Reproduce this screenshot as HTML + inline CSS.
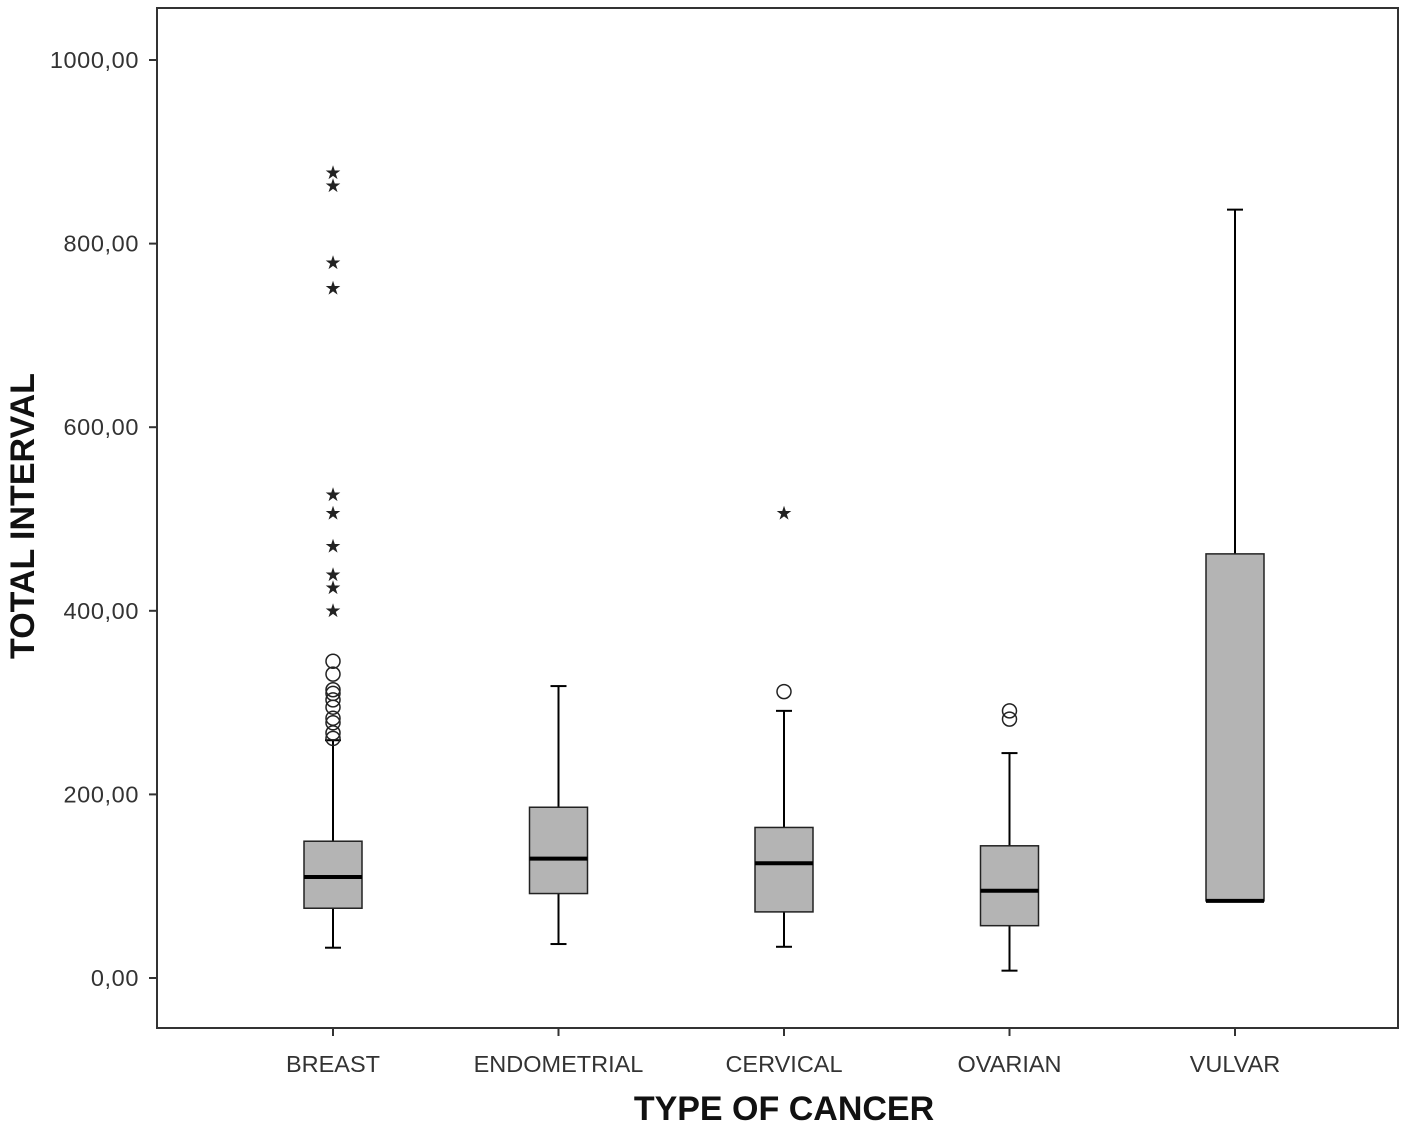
<!DOCTYPE html>
<html><head><meta charset="utf-8"><style>
html,body{margin:0;padding:0;background:#fff}
svg text{font-family:"Liberation Sans",Arial,sans-serif}
</style></head><body>
<svg id="chart" width="1418" height="1127" xmlns="http://www.w3.org/2000/svg"></svg>
<script>
const categories=["BREAST","ENDOMETRIAL","CERVICAL","OVARIAN","VULVAR"];
const whiskerLow=[33,37,34,8,84];
const q1=[76,92,72,57,84];
const median=[110,130,125,95,84];
const q3=[149,186,164,144,462];
const whiskerHigh=[259,318,291,245,837];
const circleOutliers=[[345,331,314,310,303,295,283,278,267,261],[],[312],[291,282],[]];
const starOutliers=[[878,864,780,752,527,507,471,440,426,401],[],[507],[],[]];
const yTicks=[0,200,400,600,800,1000];
const yTickLabels=["0,00","200,00","400,00","600,00","800,00","1000,00"];

const NS="http://www.w3.org/2000/svg";
const svg=document.getElementById('chart');
const L=157,R=1398,T=8,B=1028;
const y=v=>978-v*0.918;
const x=i=>333+i*225.5;
function mk(tag,attrs,parent){const e=document.createElementNS(NS,tag);for(const k in attrs)e.setAttribute(k,attrs[k]);(parent||svg).appendChild(e);return e;}

const frame=mk('rect',{x:L,y:T,width:R-L,height:B-T,fill:'none',stroke:'#333','stroke-width':2});



yTicks.forEach((v,i)=>{
  const t=mk('line',{x1:149,x2:L,y1:y(v),y2:y(v),stroke:'#333','stroke-width':2});
  
  
  const tx=mk('text',{x:139,y:y(v)+8,'text-anchor':'end','font-size':23.5,fill:'#333','letter-spacing':'0.6'});
  tx.textContent=yTickLabels[i];
  
  
});

categories.forEach((c,i)=>{
  const cx=x(i),hw=29,cap=8;
  const g=mk('g',{});
  
  
  mk('line',{x1:cx,x2:cx,y1:B,y2:B+8,stroke:'#333','stroke-width':2},g);
  mk('line',{x1:cx,x2:cx,y1:y(q3[i]),y2:y(whiskerHigh[i]),stroke:'#000','stroke-width':2},g);
  mk('line',{x1:cx-cap,x2:cx+cap,y1:y(whiskerHigh[i]),y2:y(whiskerHigh[i]),stroke:'#000','stroke-width':2},g);
  if(whiskerLow[i]<q1[i]){
    mk('line',{x1:cx,x2:cx,y1:y(q1[i]),y2:y(whiskerLow[i]),stroke:'#000','stroke-width':2},g);
    mk('line',{x1:cx-cap,x2:cx+cap,y1:y(whiskerLow[i]),y2:y(whiskerLow[i]),stroke:'#000','stroke-width':2},g);
  }
  mk('rect',{x:cx-hw,y:y(q3[i]),width:2*hw,height:Math.max(2,y(q1[i])-y(q3[i])),fill:'#b4b4b4',stroke:'#222','stroke-width':1.5},g);
  mk('line',{x1:cx-hw,x2:cx+hw,y1:y(median[i]),y2:y(median[i]),stroke:'#000','stroke-width':4},g);
  circleOutliers[i].forEach(v=>{
    const o=mk('circle',{cx:cx,cy:y(v),r:7,fill:'none',stroke:'#222','stroke-width':1.5},g);
    
    
  });
  starOutliers[i].forEach(v=>{
    const s=mk('text',{x:cx,y:y(v)+7,'text-anchor':'middle','font-size':19,fill:'#222'},g);
    s.textContent='★';
    
    
  });
  const lb=mk('text',{x:cx,y:1072,'text-anchor':'middle','font-size':23.5,fill:'#333'});
  lb.textContent=c;
  
  
});

const xt=mk('text',{x:784,y:1120,'text-anchor':'middle','font-size':34,'font-weight':'bold',fill:'#111'});
xt.textContent='TYPE OF CANCER';


const yt=mk('text',{x:0,y:0,'text-anchor':'middle','font-size':34,'font-weight':'bold',fill:'#111',transform:'translate(34,516) rotate(-90)'});
yt.textContent='TOTAL INTERVAL';


</script>
</body></html>
